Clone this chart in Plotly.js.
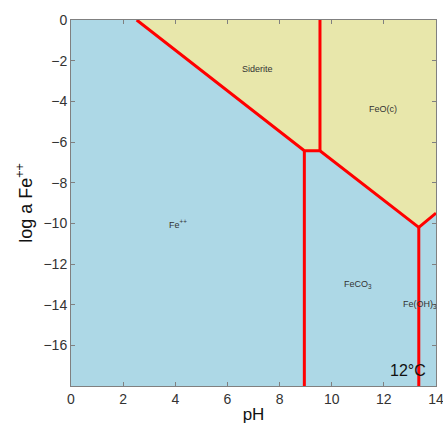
<!DOCTYPE html>
<html><head><meta charset="utf-8">
<script src="https://cdn.plot.ly/plotly-3.0.1.min.js"></script>
<style>body{margin:0;padding:0;background:#fff}#plot{width:443px;height:424px}</style>
</head><body><div id="plot"></div>
<script>
// Region polygons (pH, log a Fe++)
const feIonX = [0, 2.52, 8.95, 8.95, 0];
const feIonY = [0, 0, -6.43, -18, -18];
const sideriteX = [2.52, 9.55, 9.55, 8.95];
const sideriteY = [0, 0, -6.43, -6.43];
const feoX = [9.55, 14, 14, 13.34, 9.55];
const feoY = [0, 0, -9.5, -10.2, -6.43];
const feco3X = [8.95, 9.55, 13.34, 13.34, 8.95];
const feco3Y = [-6.43, -6.43, -10.2, -18, -18];
const feoh3X = [13.34, 14, 14, 13.34];
const feoh3Y = [-10.2, -9.5, -18, -18];

// Boundary lines
const b1X = [2.52, 8.95, 9.55, 13.34, 14];
const b1Y = [0, -6.43, -6.43, -10.2, -9.5];
const b2X = [8.95, 8.95];
const b2Y = [-6.43, -18];
const b3X = [9.55, 9.55];
const b3Y = [-6.43, 0];
const b4X = [13.34, 13.34];
const b4Y = [-10.2, -18];

// Labels
const labelText = ['Siderite', 'FeO(c)', 'Fe<sup>++</sup>', 'FeCO<sub>3</sub>', 'Fe(OH)<sub>3</sub>'];
const labelX = [7.17, 11.95, 4.1, 11.0, 13.4];
const labelY = [-2.4, -4.4, -10.05, -13.0, -14.0];

const blue = '#add8e6', yellow = '#e8e7ab';
function poly(x, y, c) {
  return {x: x, y: y, type: 'scatter', mode: 'lines', fill: 'toself', fillcolor: c,
          line: {width: 0, color: c}, hoverinfo: 'skip', showlegend: false};
}
function bline(x, y) {
  return {x: x, y: y, type: 'scatter', mode: 'lines', line: {color: '#ff0000', width: 3},
          hoverinfo: 'skip', showlegend: false};
}
const data = [
  poly(feIonX, feIonY, blue), poly(sideriteX, sideriteY, yellow), poly(feoX, feoY, yellow),
  poly(feco3X, feco3Y, blue), poly(feoh3X, feoh3Y, blue),
  bline(b1X, b1Y), bline(b2X, b2Y), bline(b3X, b3Y), bline(b4X, b4Y)
];
const annotations = labelText.map((t, i) => ({
  x: labelX[i], y: labelY[i], text: t, showarrow: false,
  font: {family: 'Liberation Sans, Arial, sans-serif', size: 9, color: '#333'}
}));
annotations.push({x: 12.93, y: -17.25, text: '12°C', showarrow: false,
  font: {family: 'Liberation Sans, Arial, sans-serif', size: 16, color: '#111'}});

const axisCommon = {showgrid: false, zeroline: false, showline: true, mirror: 'ticks',
  linecolor: '#808080', linewidth: 1, ticks: 'inside', ticklen: 4, tickcolor: '#808080',
  ticklabeloverflow: 'allow',
  tickfont: {family: 'Liberation Sans, Arial, sans-serif', size: 14, color: '#333'}};
const layout = {
  width: 443, height: 424,
  margin: {l: 71, r: 7, t: 20, b: 38},
  paper_bgcolor: '#fff', plot_bgcolor: blue,
  font: {family: 'Liberation Sans, Arial, sans-serif'},
  xaxis: Object.assign({}, axisCommon, {range: [0, 14], tickvals: [0,2,4,6,8,10,12,14],
    title: {text: 'pH', font: {size: 17, color: '#111'}, standoff: 4}}),
  yaxis: Object.assign({}, axisCommon, {range: [-18, 0], tickvals: [0,-2,-4,-6,-8,-10,-12,-14,-16],
    title: {text: 'log a Fe<sup>++</sup>', font: {size: 18, color: '#111'}, standoff: 6}}),
  annotations: annotations
};
Plotly.newPlot('plot', data, layout, {staticPlot: true, displayModeBar: false});
</script></body></html>
